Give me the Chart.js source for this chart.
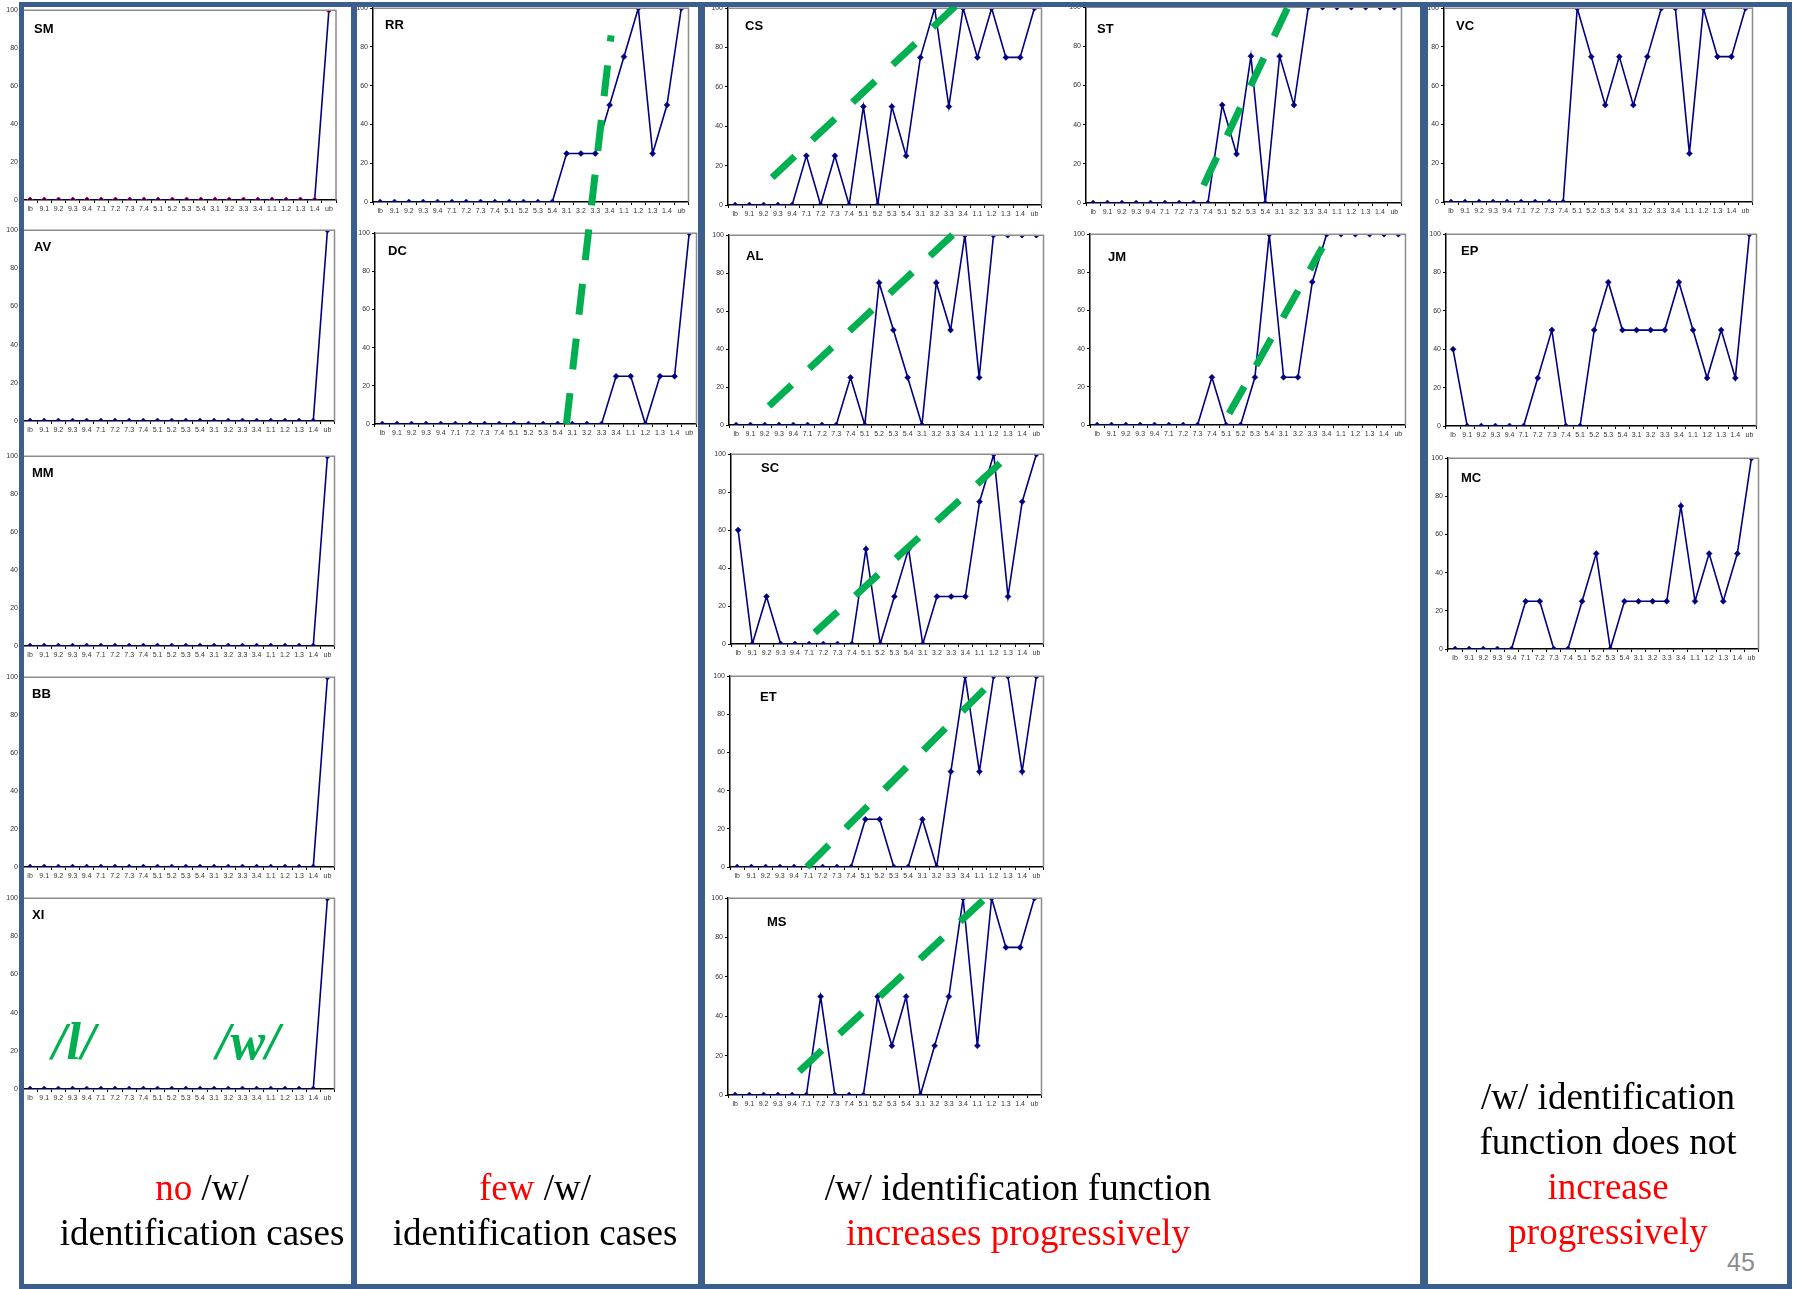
<!DOCTYPE html>
<html>
<head>
<meta charset="utf-8">
<script src="https://cdn.jsdelivr.net/npm/chart.js@4"></script>
<style>
  body { margin: 0; background: #fff; }
  #page { position: relative; width: 1796px; height: 1289px; overflow: hidden; background: #fff; }
  .panel { position: absolute; }
  .frame { position: absolute; border: 5px solid #3b5e8c; box-sizing: border-box; z-index: 5; pointer-events: none; }
  .note { position: absolute; font-family: "Liberation Serif", "Times New Roman", serif; font-size: 37px; color: #000; text-align: center; line-height: 45px; z-index: 6; white-space: nowrap; }
  .red { color: #ff0000; }
  .ph { position: absolute; font-family: "Liberation Serif", serif; font-style: italic; font-weight: bold; font-size: 52px; color: #00b050; z-index: 6; }
  #overlay { position: absolute; left: 0; top: 0; z-index: 4; }
</style>
</head>
<body>
<div id="page">
  <canvas id="overlay" width="1796" height="1289"></canvas>

  <div class="frame" style="left:19px; top:2px; width:337px; height:1287px;"></div>
  <div class="frame" style="left:352px; top:2px; width:351px; height:1287px;"></div>
  <div class="frame" style="left:700px; top:2px; width:725px; height:1287px;"></div>
  <div class="frame" style="left:1423px; top:2px; width:369px; height:1287px;"></div>

  <div class="ph" style="left:52px; top:1012px;">/l/</div>
  <div class="ph" style="left:216px; top:1012px;">/w/</div>

  <div class="note" style="left:22px; width:360px; top:1165px;"><span class="red">no</span> /w/<br>identification cases</div>
  <div class="note" style="left:355px; width:360px; top:1165px;"><span class="red">few</span> /w/<br>identification cases</div>
  <div class="note" style="left:800px; width:436px; top:1165px;">/w/ identification function<br><span class="red">increases progressively</span></div>
  <div class="note" style="left:1428px; width:360px; top:1074px;">/w/ identification<br>function does not<br><span class="red">increase<br>progressively</span></div>
  <div style="position:absolute; left:1727px; top:1248px; font-family:'Liberation Sans', Arial, sans-serif; font-size:25px; color:#8c8c8c;">45</div>
</div>

<script>
const categories = ['lb','9.1','9.2','9.3','9.4','7.1','7.2','7.3','7.4','5.1','5.2','5.3','5.4','3.1','3.2','3.3','3.4','1.1','1.2','1.3','1.4','ub'];

// identification percentages per listener
const smValues = [0,0,0,0,0,0,0,0,0,0,0,0,0,0,0,0,0,0,0,0,0,100];
const avValues = [0,0,0,0,0,0,0,0,0,0,0,0,0,0,0,0,0,0,0,0,0,100];
const mmValues = [0,0,0,0,0,0,0,0,0,0,0,0,0,0,0,0,0,0,0,0,0,100];
const bbValues = [0,0,0,0,0,0,0,0,0,0,0,0,0,0,0,0,0,0,0,0,0,100];
const xiValues = [0,0,0,0,0,0,0,0,0,0,0,0,0,0,0,0,0,0,0,0,0,100];
const rrValues = [0,0,0,0,0,0,0,0,0,0,0,0,0,25,25,25,50,75,100,25,50,100];
const dcValues = [0,0,0,0,0,0,0,0,0,0,0,0,0,0,0,0,25,25,0,25,25,100];
const csValues = [0,0,0,0,0,25,0,25,0,50,0,50,25,75,100,50,100,75,100,75,75,100];
const alValues = [0,0,0,0,0,0,0,0,25,0,75,50,25,0,75,50,100,25,100,100,100,100];
const scValues = [60,0,25,0,0,0,0,0,0,50,0,25,50,0,25,25,25,75,100,25,75,100];
const etValues = [0,0,0,0,0,0,0,0,0,25,25,0,0,25,0,50,100,50,100,100,50,100];
const msValues = [0,0,0,0,0,0,50,0,0,0,50,25,50,0,25,50,100,25,100,75,75,100];
const stValues = [0,0,0,0,0,0,0,0,0,50,25,75,0,75,50,100,100,100,100,100,100,100];
const jmValues = [0,0,0,0,0,0,0,0,25,0,0,25,100,25,25,75,100,100,100,100,100,100];
const vcValues = [0,0,0,0,0,0,0,0,0,100,75,50,75,50,75,100,100,25,100,75,75,100];
const epValues = [40,0,0,0,0,0,25,50,0,0,50,75,50,50,50,50,75,50,25,50,25,100];
const mcValues = [0,0,0,0,0,25,25,0,0,25,50,0,25,25,25,25,75,25,50,25,50,100];

const yTicks = [0, 20, 40, 60, 80, 100];

// plot-area rectangles [left, top, right, bottom] and label offsets [dx, dy]
const panels = [
  { name: 'SM', values: smValues, rect: [23, 9, 338, 200],    lab: [11, 19], ring: '#ff0000' },
  { name: 'AV', values: avValues, rect: [23, 229, 336, 421],  lab: [11, 17] },
  { name: 'MM', values: mmValues, rect: [23, 455, 336, 646],  lab: [9, 17] },
  { name: 'BB', values: bbValues, rect: [23, 676, 336, 867],  lab: [9, 17] },
  { name: 'XI', values: xiValues, rect: [23, 897, 336, 1089], lab: [9, 17] },
  { name: 'RR', values: rrValues, rect: [373, 7, 690, 202],   lab: [12, 17] },
  { name: 'DC', values: dcValues, rect: [375, 232, 698, 424], lab: [13, 18] },
  { name: 'CS', values: csValues, rect: [728, 7, 1043, 205],  lab: [17, 18] },
  { name: 'AL', values: alValues, rect: [729, 234, 1045, 425], lab: [17, 21] },
  { name: 'SC', values: scValues, rect: [731, 453, 1045, 644], lab: [30, 14] },
  { name: 'ET', values: etValues, rect: [730, 675, 1045, 867], lab: [30, 21] },
  { name: 'MS', values: msValues, rect: [728, 897, 1043, 1095], lab: [39, 24] },
  { name: 'ST', values: stValues, rect: [1086, 6, 1403, 203], lab: [11, 22] },
  { name: 'JM', values: jmValues, rect: [1090, 233, 1407, 425], lab: [18, 23] },
  { name: 'VC', values: vcValues, rect: [1444, 7, 1754, 202], lab: [12, 18] },
  { name: 'EP', values: epValues, rect: [1446, 233, 1758, 426], lab: [15, 17] },
  { name: 'MC', values: mcValues, rect: [1448, 457, 1760, 649], lab: [13, 20] }
];

// hand-drawn trend strokes, endpoints in [category index, percent] of a panel
const trends = [
  { from: ['DC', 12.6, 0],  to: ['RR', 16.1, 86] },
  { from: ['CS', 2.6, 14],  to: ['CS', 15.6, 102] },
  { from: ['AL', 2.3, 10],  to: ['AL', 15.4, 102] },
  { from: ['SC', 5.4, 6],   to: ['SC', 18.7, 97] },
  { from: ['ET', 4.9, 0],   to: ['ET', 17.6, 95] },
  { from: ['MS', 4.5, 12],  to: ['MS', 17.7, 101] },
  { from: ['ST', 7.7, 9],   to: ['ST', 13.7, 102] },
  { from: ['JM', 9.2, 6],   to: ['JM', 15.7, 93] }
];

const Y_AXIS_W = 22, X_AXIS_H = 18, PAD_TOP = 5, PAD_RIGHT = 3;
const tickFont = { family: "'Liberation Sans', Arial, sans-serif", size: 7 };

const plotDecor = {
  id: 'plotDecor',
  afterDatasetsDraw(chart, args, opts) {
    const a = chart.chartArea, c = chart.ctx;
    c.save();
    c.strokeStyle = '#8c8c8c';
    c.lineWidth = 1.5;
    c.beginPath();
    c.moveTo(a.left, a.top);
    c.lineTo(a.right, a.top);
    c.lineTo(a.right, a.bottom);
    c.stroke();
    c.fillStyle = '#000';
    c.font = "bold 13px 'Liberation Sans', Arial, sans-serif";
    c.textBaseline = 'middle';
    c.fillText(opts.name, a.left + opts.dx, a.top + opts.dy);
    c.restore();
  }
};

const page = document.getElementById('page');
const charts = {};

panels.forEach(p => {
  const [L, T, R, B] = p.rect;
  const w = R - L + Y_AXIS_W + PAD_RIGHT;
  const h = B - T + PAD_TOP + X_AXIS_H;
  const box = document.createElement('div');
  box.className = 'panel';
  box.style.left = (L - Y_AXIS_W) + 'px';
  box.style.top = (T - PAD_TOP) + 'px';
  box.style.width = w + 'px';
  box.style.height = h + 'px';
  const cv = document.createElement('canvas');
  cv.width = w; cv.height = h;
  box.appendChild(cv);
  page.appendChild(box);

  charts[p.name] = new Chart(cv.getContext('2d'), {
    type: 'line',
    data: {
      labels: categories,
      datasets: [{
        data: p.values,
        borderColor: '#000080',
        borderWidth: 1.6,
        tension: 0,
        pointStyle: 'rectRot',
        pointRadius: 3,
        pointBackgroundColor: '#000080',
        pointBorderColor: p.ring || '#000080',
        pointBorderWidth: p.ring ? 1 : 0.5
      }]
    },
    options: {
      responsive: false,
      animation: false,
      events: [],
      layout: { padding: { top: PAD_TOP, right: PAD_RIGHT, left: 0, bottom: 0 } },
      plugins: {
        legend: { display: false },
        tooltip: { enabled: false },
        plotDecor: { name: p.name, dx: p.lab[0], dy: p.lab[1] }
      },
      scales: {
        x: {
          offset: true,
          grid: { offset: true, drawOnChartArea: false, tickLength: 3, color: '#000' },
          border: { color: '#000', width: 1.5 },
          ticks: { font: tickFont, color: '#333', maxRotation: 0, minRotation: 0, autoSkip: false, padding: 2 },
          afterFit: s => { s.height = X_AXIS_H; }
        },
        y: {
          min: 0,
          max: 100,
          afterBuildTicks: s => { s.ticks = yTicks.map(v => ({ value: v })); },
          grid: { drawOnChartArea: false, tickLength: 3, color: '#000' },
          border: { color: '#000', width: 1.5 },
          ticks: { font: tickFont, color: '#333', padding: 2 },
          afterFit: s => { s.width = Y_AXIS_W; }
        }
      }
    },
    plugins: [plotDecor]
  });
});

// green trend strokes on top of the panels
function pagePoint(ref) {
  const ch = charts[ref[0]];
  const box = ch.canvas.parentNode;
  return [
    box.offsetLeft + ch.scales.x.getPixelForValue(ref[1]),
    box.offsetTop + ch.scales.y.getPixelForValue(ref[2])
  ];
}
const ov = document.getElementById('overlay').getContext('2d');
ov.strokeStyle = '#00b050';
ov.lineWidth = 7;
ov.lineCap = 'butt';
ov.setLineDash([31, 24]);
trends.forEach(t => {
  const a = pagePoint(t.from), b = pagePoint(t.to);
  ov.beginPath();
  ov.moveTo(a[0], a[1]);
  ov.lineTo(b[0], b[1]);
  ov.stroke();
});
</script>
</body>
</html>
